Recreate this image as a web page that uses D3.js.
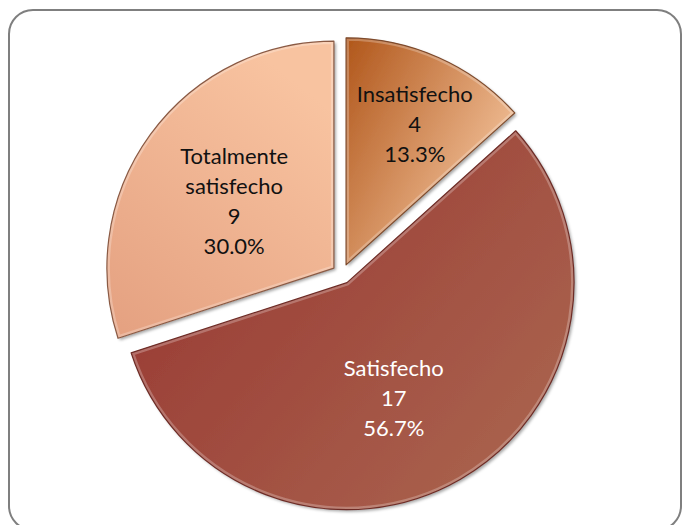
<!DOCTYPE html>
<html>
<head>
<meta charset="utf-8">
<script src="https://cdn.jsdelivr.net/npm/d3@7"></script>
<style>
    body { margin: 0; background: #fff; }
    svg { display: block; }
</style>
</head>
<body>
<div id="chart"></div>
<script>
const categories = ['Insatisfecho', 'Satisfecho', 'Totalmente satisfecho'];
const counts = [4, 17, 9];
const percents = ['13.3%', '56.7%', '30.0%'];
const labelLines = [['Insatisfecho'], ['Satisfecho'], ['Totalmente', 'satisfecho']];

const width = 683;
const height = 525;
const radius = 227;
const explode = 10;
const center = { x: 342, y: 274 };
// label placement: fraction of radius, and angle nudge in degrees
const labelRadius = [0.69, 0.55, 0.53];
const labelNudge = [2, 8, -2];

const fills = [
    { from: '#b0561a', to: '#f8caa4', x1: '0%', y1: '0%', x2: '100%', y2: '70%' },
    { from: '#983832', to: '#ab6650', x1: '0%', y1: '20%', x2: '100%', y2: '90%' },
    { from: '#e4a080', to: '#f8c3a0', x1: '0%', y1: '100%', x2: '60%', y2: '0%' }
];
const textColors = ['#111', '#fff', '#111'];
const strokeColors = ['#7d4a2c', '#6e2c26', '#8a5a44'];

const svg = d3.select('#chart').append('svg')
    .attr('width', width)
    .attr('height', height);

const defs = svg.append('defs');

fills.forEach((f, i) => {
    const g = defs.append('linearGradient')
        .attr('id', `grad${i}`)
        .attr('x1', f.x1).attr('y1', f.y1)
        .attr('x2', f.x2).attr('y2', f.y2);
    g.append('stop').attr('offset', '0%').attr('stop-color', f.from);
    g.append('stop').attr('offset', '100%').attr('stop-color', f.to);
});

const shadow = defs.append('filter').attr('id', 'shadow')
    .attr('x', '-10%').attr('y', '-10%').attr('width', '120%').attr('height', '120%');
shadow.append('feDropShadow')
    .attr('dx', 2).attr('dy', 2).attr('stdDeviation', 1.5)
    .attr('flood-color', '#000').attr('flood-opacity', 0.35);

// outer frame
svg.append('rect')
    .attr('x', 9).attr('y', 10)
    .attr('width', 672).attr('height', 520)
    .attr('rx', 24).attr('ry', 24)
    .attr('fill', 'none')
    .attr('stroke', '#7f7f7f')
    .attr('stroke-width', 2);

const pie = d3.pie().sort(null).value(d => d)(counts);
const arc = d3.arc().innerRadius(0).outerRadius(radius);

const slices = svg.append('g')
    .attr('transform', `translate(${center.x},${center.y})`)
    .selectAll('g.slice')
    .data(pie)
    .join('g')
    .attr('class', 'slice')
    .attr('transform', d => {
        const a = (d.startAngle + d.endAngle) / 2;
        return `translate(${Math.sin(a) * explode},${-Math.cos(a) * explode})`;
    });

slices.append('clipPath')
    .attr('id', (d, i) => `clip${i}`)
    .append('path')
    .attr('d', arc);

slices.append('path')
    .attr('d', arc)
    .attr('fill', (d, i) => `url(#grad${i})`)
    .attr('filter', 'url(#shadow)');

// bevel highlight
slices.append('path')
    .attr('d', arc)
    .attr('fill', 'none')
    .attr('stroke', 'rgba(255,255,255,0.25)')
    .attr('stroke-width', 6)
    .attr('clip-path', (d, i) => `url(#clip${i})`);

slices.append('path')
    .attr('d', arc)
    .attr('fill', 'none')
    .attr('stroke', (d, i) => strokeColors[i])
    .attr('stroke-width', 1.2)
    .attr('stroke-linejoin', 'round');

const lineH = 30;
slices.append('text')
    .attr('transform', (d, i) => {
        const a = (d.startAngle + d.endAngle) / 2 + labelNudge[i] * Math.PI / 180;
        const r = radius * labelRadius[i];
        return `translate(${Math.sin(a) * r},${-Math.cos(a) * r})`;
    })
    .attr('text-anchor', 'middle')
    .attr('font-family', 'Lato, "Noto Sans", sans-serif')
    .attr('font-size', 22)
    .attr('fill', (d, i) => textColors[i])
    .each(function(d, i) {
        const lines = [...labelLines[i], String(counts[i]), percents[i]];
        const t = d3.select(this);
        const top = -(lines.length - 1) * lineH / 2;
        lines.forEach((s, j) => {
            t.append('tspan')
                .attr('x', 0)
                .attr('y', top + j * lineH)
                .attr('dy', '0.35em')
                .text(s);
        });
    });
</script>
</body>
</html>
